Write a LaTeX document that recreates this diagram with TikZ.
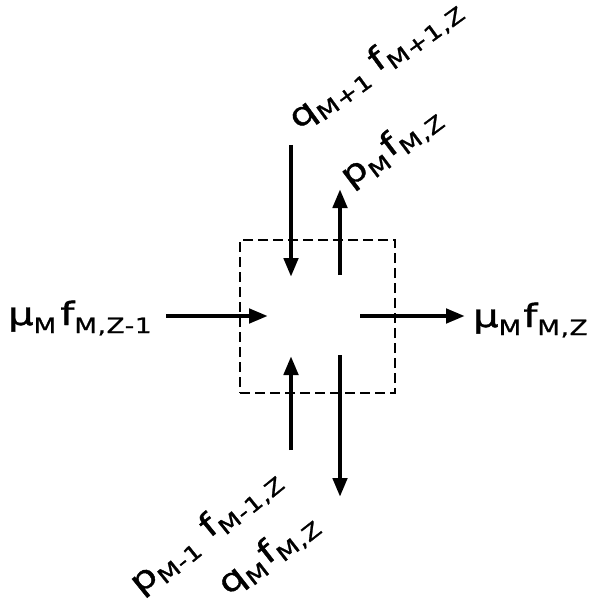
\documentclass[tikz,border=0pt]{standalone}
\usepackage{fontspec}
\usetikzlibrary{arrows.meta}
\newfontfamily\lettering[FakeStretch=1.25,LetterSpace=3,FakeBold=1.2]{DejaVu Sans}
\newcommand\mainsz{\fontsize{32}{34}\selectfont}
\newcommand\lsub[1]{\raisebox{-8pt}{\fontsize{21}{22}\selectfont #1}}
\begin{document}
\begin{tikzpicture}[x=1pt,y=-1pt,
  flow/.style={line width=4.5pt,-{Triangle[length=19pt,width=14pt]}},
  lab/.style={inner sep=0pt,anchor=base west,font=\lettering\mainsz},
  ctrl/.style={draw,line width=2.2pt,dash pattern=on 10pt off 5pt,inner sep=0pt}]
\useasboundingbox (0,0) rectangle (588,604);
\node[ctrl,minimum width=155pt,minimum height=153pt] (box) at (317.5,316.5) {};
% arrow end points
\coordinate (a1s) at (291,145); \coordinate (a1e) at (291,277);
\coordinate (a2s) at (340,275); \coordinate (a2e) at (340,189);
\coordinate (a3s) at (291,450); \coordinate (a3e) at (291,356);
\coordinate (a4s) at (340,355); \coordinate (a4e) at (340,497);
\coordinate (a5s) at (166,316); \coordinate (a5e) at (268,316);
\coordinate (a6s) at (360,316); \coordinate (a6e) at (465,316);
\draw[flow] (a1s) -- (a1e);
\draw[flow] (a2s) -- (a2e);
\draw[flow] (a3s) -- (a3e);
\draw[flow] (a4s) -- (a4e);
\draw[flow] (a5s) -- (a5e);
\draw[flow] (a6s) -- (a6e);
% labels
\node[lab] (lin) at (8,325) {μ\lsub{M}\hspace{4pt}f\lsub{M,Z-1}};
\node[lab] (lout) at (473,327) {μ\lsub{M}\hspace{2pt}f\lsub{M,Z}};
\node[lab,rotate=36] (ltop1) at (298,130) {q\lsub{M+1}\hspace{10pt}f\lsub{M+1,Z}};
\node[lab,rotate=37] (ltop2) at (350,188) {p\lsub{M}\hspace{2pt}f\lsub{M,Z}};
\node[lab,rotate=39] (lbot1) at (140,595) {p\lsub{M-1}\hspace{14pt}f\lsub{M-1,Z}};
\node[lab,rotate=38] (lbot2) at (228,596) {q\lsub{M}\hspace{2pt}f\lsub{M,Z}};
\end{tikzpicture}
\end{document}
